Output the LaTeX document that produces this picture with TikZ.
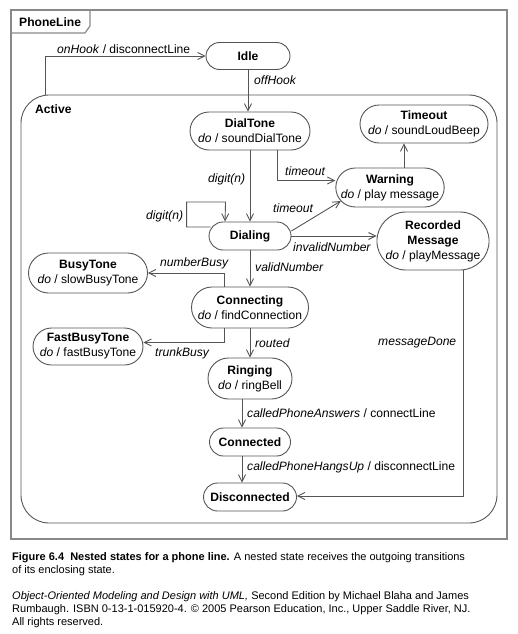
\documentclass[tikz,border=0pt]{standalone}
\usepackage{fontspec}
\setmainfont{Liberation Sans}
\usetikzlibrary{arrows.meta,shapes.misc,positioning}
\definecolor{ln}{HTML}{555555}
\definecolor{fr}{HTML}{888888}
\begin{document}
\begin{tikzpicture}[x=1pt,y=-1pt,
  dfont/.style={font=\fontsize{12.1}{15}\selectfont},
  state/.style={draw=ln, line width=0.9pt, rounded rectangle, inner sep=0pt, align=center, dfont, text=black},
  tr/.style={draw=ln, line width=0.9pt, -{Straight Barb[length=7pt,width=7pt]}},
  lab/.style={dfont, inner sep=0pt, anchor=west, text=black},
  captext/.style={font=\fontsize{11}{13}\selectfont, inner sep=0pt, anchor=west, text=black}]
\useasboundingbox (0,0) rectangle (518,634);
% outer frame
\draw[fr, line width=1.6pt] (11,10) rectangle (507,539);
\draw[fr, line width=1.2pt] (11,33) -- (85,33) -- (90,26) -- (90,10);
\node[lab, font=\fontsize{12.1}{14}\selectfont\bfseries] (phoneline) at (19,22) {PhoneLine};
% active frame
\draw[ln, line width=0.9pt, rounded corners=28pt] (21,95) rectangle (497,523);
\node[lab, font=\fontsize{12.1}{14}\selectfont\bfseries] (active) at (35,109) {Active};
\coordinate (ohstart) at (45,95);
% states
\node[state, minimum width=84pt, minimum height=27pt] (idle) at (248,56) {\textbf{Idle}};
\node[state, minimum width=120pt, minimum height=38pt] (dialtone) at (250,131) {\textbf{DialTone}\\\textit{do} / soundDialTone};
\node[state, minimum width=128pt, minimum height=38pt] (timeout) at (424,124) {\textbf{Timeout}\\\textit{do} / soundLoudBeep};
\node[state, minimum width=106pt, minimum height=39pt] (warning) at (390,187.5) {\textbf{Warning}\\\textit{do} / play message};
\node[state, minimum width=82pt, minimum height=28pt] (dialing) at (250,236) {\textbf{Dialing}};
\node[state, minimum width=110pt, minimum height=58pt] (recorded) at (433,241) {\textbf{Recorded}\\\textbf{Message}\\\textit{do} / playMessage};
\node[state, minimum width=119pt, minimum height=40pt] (busytone) at (88,273) {\textbf{BusyTone}\\\textit{do} / slowBusyTone};
\node[state, minimum width=117pt, minimum height=41pt] (connecting) at (250,307.5) {\textbf{Connecting}\\\textit{do} / findConnection};
\node[state, minimum width=110pt, minimum height=37pt] (fastbusy) at (88,346.5) {\textbf{FastBusyTone}\\\textit{do} / fastBusyTone};
\node[state, minimum width=84pt, minimum height=41pt] (ringing) at (250,378.5) {\textbf{Ringing}\\\textit{do} / ringBell};
\node[state, minimum width=81pt, minimum height=28pt] (connected) at (250,442) {\textbf{Connected}};
\node[state, minimum width=93pt, minimum height=28pt] (disconnected) at (250,497) {\textbf{Disconnected}};
% transitions
\draw[tr] (ohstart) |- (idle.west);
\draw[tr] (idle.south) -- (idle.south |- dialtone.north);
\draw[tr] ([xshift=27pt]dialtone.south) |- ([yshift=7pt]warning.west);
\draw[tr] (dialtone.south) -- (dialing.north);
\draw[tr] ([xshift=2pt,yshift=9pt]dialing.west) -- ++(-24,0) -- ++(0,-25) -- ++(39,0) -- ([xshift=-25pt]dialing.north);
\draw[tr] ([yshift=5pt]dialing.east) -- ([xshift=5.5pt,yshift=-13.5pt]warning.west);
\draw[tr] (dialing.east) -- (dialing.east -| recorded.west);
\draw[tr] ([xshift=30pt]recorded.south) |- ([yshift=1pt]disconnected.east);
\draw[tr] (dialing.south) -- (connecting.north);
\draw[tr] ([xshift=-26pt]connecting.north) |- (busytone.east);
\draw[tr] ([xshift=-26pt]connecting.south) |- ([yshift=4pt]fastbusy.east);
\draw[tr] (connecting.south) -- (ringing.north);
\draw[tr] ([xshift=-8pt]ringing.south) -- ([xshift=-8pt]connected.north);
\draw[tr] ([xshift=-8pt]connected.south) -- ([xshift=-8pt]disconnected.north);
\draw[tr] ([xshift=14pt]warning.north) -- ([xshift=14pt]warning.north |- timeout.south);
% labels
\node[lab] (l1) at (57,49) {\textit{onHook} / disconnectLine};
\node[lab] (l2) at (254,80) {\textit{offHook}};
\node[lab] (l3) at (285,171) {\textit{timeout}};
\node[lab] (l4) at (208,179) {\textit{digit(n)}};
\node[lab] (l5) at (146,216) {\textit{digit(n)}};
\node[lab] (l6) at (273,208) {\textit{timeout}};
\node[lab] (l7) at (293,247) {\textit{invalidNumber}};
\node[lab] (l8) at (255,267) {\textit{validNumber}};
\node[lab] (l9) at (160,263) {\textit{numberBusy}};
\node[lab] (l10) at (155,353) {\textit{trunkBusy}};
\node[lab] (l11) at (255,343) {\textit{routed}};
\node[lab] (l12) at (378,343) {\textit{messageDone}};
\node[lab] (l13) at (247,413) {\textit{calledPhoneAnswers} / connectLine};
\node[lab] (l14) at (247,467) {\textit{calledPhoneHangsUp} / disconnectLine};
% caption
\node[captext] (c1) at (12,558) {\textbf{Figure 6.4\ \ Nested states for a phone line.} A nested state receives the outgoing transitions};
\node[captext] (c2) at (12,571) {of its enclosing state.};
\node[captext] (c3) at (12,597) {\textit{Object-Oriented Modeling and Design with UML,} Second Edition by Michael Blaha and James};
\node[captext] (c4) at (12,610) {Rumbaugh. ISBN 0-13-1-015920-4. © 2005 Pearson Education, Inc., Upper Saddle River, NJ.};
\node[captext] (c5) at (12,623) {All rights reserved.};
\end{tikzpicture}
\end{document}
